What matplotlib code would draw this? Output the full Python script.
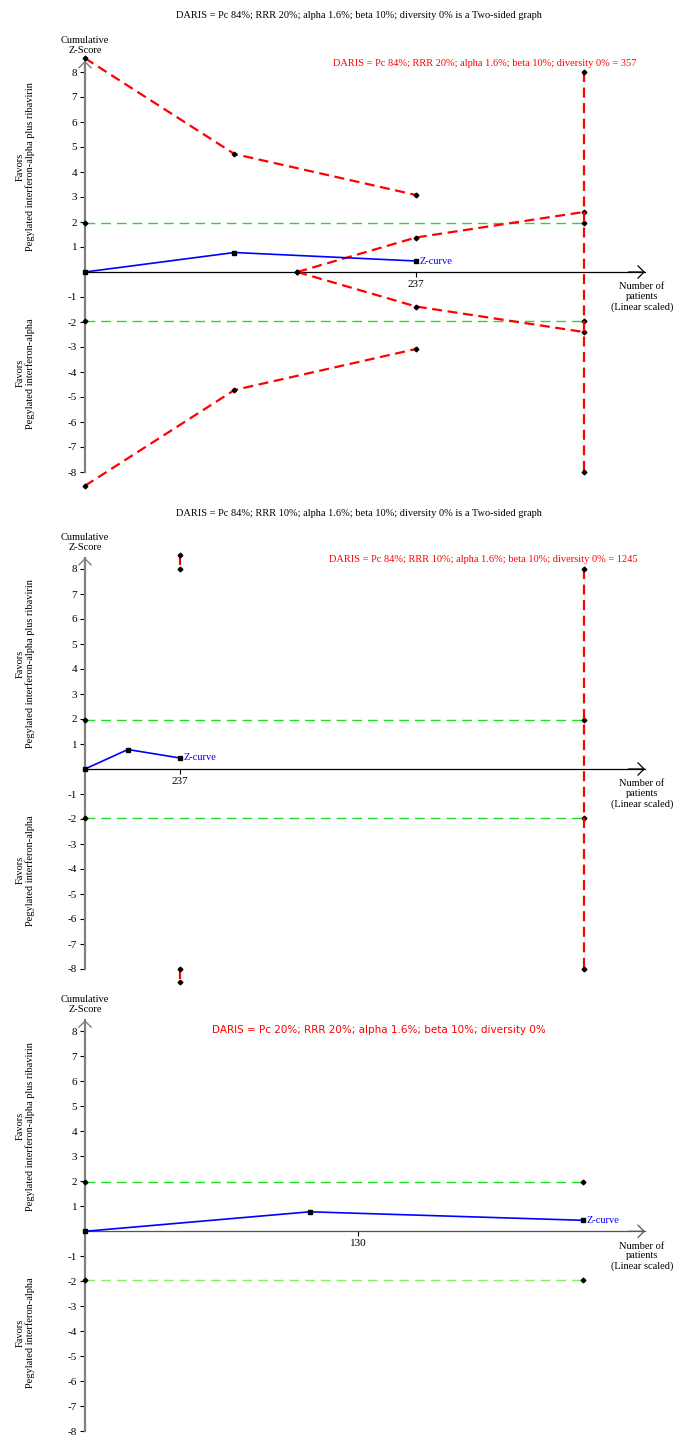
import matplotlib
matplotlib.use("Agg")
import matplotlib.pyplot as plt

plt.rcParams['font.family'] = ['Liberation Serif', 'DejaVu Serif']

# ---- data ----
z_patients = [0, 107, 237]
z_scores = [0, 0.78, 0.44]

# panel 1: RRR 20%, RIS 357
p1_ris = 357
p1_upper_n = [0, 107, 237]
p1_upper_z = [8.55, 4.72, 3.08]
p1_lower_n = [0, 107, 237]
p1_lower_z = [-8.55, -4.72, -3.08]
p1_inner_n = [152, 237, 357]
p1_inner_up_z = [0, 1.38, 2.40]
p1_inner_lo_z = [0, -1.38, -2.40]

# panel 2: RRR 10%, RIS 1245
p2_ris = 1245
p2_upper_n = [237, 237]
p2_upper_z = [8.55, 8.0]
p2_lower_n = [237, 237]
p2_lower_z = [-8.0, -8.5]

# panel 3: Pc 20%, no RIS drawn
p3_end = 237

conv_z = 1.96
ris_z = 8.0

titles = [
    "DARIS = Pc 84%; RRR 20%; alpha 1.6%; beta 10%; diversity 0% is a Two-sided graph",
    "DARIS = Pc 84%; RRR 10%; alpha 1.6%; beta 10%; diversity 0% is a Two-sided graph",
    None,
]
ris_labels = [
    "DARIS = Pc 84%; RRR 20%; alpha 1.6%; beta 10%; diversity 0% = 357",
    "DARIS = Pc 84%; RRR 10%; alpha 1.6%; beta 10%; diversity 0% = 1245",
    "DARIS = Pc 20%; RRR 20%; alpha 1.6%; beta 10%; diversity 0%",
]
xticks_list = [[237], [237], [130]]

W, H = 700, 1448
fig = plt.figure(figsize=(W / 100, H / 100), dpi=100)

RED = '#ff0000'
GREEN = '#22dd22'
LGREEN = '#88ee66'
BLUE = '#0000ff'
FS = 7.5


def make_panel(top, bottom, zero_y, s, x_end, xaxis_col='black'):
    # s = pixels per patient, 25 pixels per z unit, y axis at pixel 85
    ax = fig.add_axes([60 / W, 1 - bottom / H, 620 / W, (bottom - top) / H])
    ax.set_xlim((60 - 85) / s, (680 - 85) / s)
    ax.set_ylim((zero_y - bottom) / 25, (zero_y - top) / 25)
    ax.patch.set_alpha(0)
    for sp in ['top', 'right']:
        ax.spines[sp].set_visible(False)
    ax.spines['left'].set_position(('data', 0))
    ax.spines['bottom'].set_position(('data', 0))
    ax.spines['left'].set_bounds(-8, 8.45)
    ax.spines['bottom'].set_bounds(0, x_end)
    ax.spines['left'].set_color('#808080')
    ax.spines['left'].set_linewidth(1.6)
    ax.spines['bottom'].set_color(xaxis_col)
    ax.spines['bottom'].set_linewidth(0.9)
    yt = [v for v in range(-8, 9) if v != 0]
    ax.set_yticks(yt)
    ax.set_yticklabels([str(v) for v in yt])
    ax.tick_params(axis='y', length=3.6, width=0.8, color='black', pad=2,
                   labelsize=8)
    ax.tick_params(axis='x', length=3.6, width=0.8, color='black', pad=2,
                   labelsize=8, direction='out')
    # arrow heads
    ax.annotate('', xy=(x_end, 0), xytext=(x_end * 0.97, 0),
                arrowprops=dict(arrowstyle='->,head_length=0.45,head_width=0.45',
                                color=xaxis_col, lw=0.9, shrinkA=0, shrinkB=0))
    ax.annotate('', xy=(0, 8.45), xytext=(0, 8.0),
                arrowprops=dict(arrowstyle='->,head_length=0.45,head_width=0.45',
                                color='#808080', lw=1.0, shrinkA=0, shrinkB=0))
    ax.text(0, 9.06, "Cumulative\nZ-Score", ha='center', va='center',
            fontsize=FS, linespacing=1.1)
    xl = (642 - 85) / s
    ax.text(xl, -1.0, "Number of\npatients\n(Linear scaled)", ha='center',
            va='center', fontsize=FS, linespacing=1.1)
    xf = (25 - 85) / s
    ax.text(xf, 4.2, "Favors\nPegylated interferon-alpha plus ribavirin",
            rotation=90, ha='center', va='center', multialignment='center',
            fontsize=FS, linespacing=1.1)
    ax.text(xf, -4.05, "Favors\nPegylated interferon-alpha",
            rotation=90, ha='center', va='center', multialignment='center',
            fontsize=FS, linespacing=1.1)
    return ax


def red_line(ax, n, z):
    ax.plot(n, z, color=RED, lw=1.6, dashes=(4.5, 2.5), clip_on=False,
            marker='D', ms=2.4, mfc='black', mec='black', zorder=4)


def green_line(ax, n, z, col):
    ax.plot(n, z, color=col, lw=1.0, dashes=(7, 4.3), clip_on=False,
            marker='D', ms=2.4, mfc='black', mec='black', zorder=3)


def z_curve(ax):
    ax.plot(z_patients, z_scores, color=BLUE, lw=1.2, marker='s', ms=2.4,
            mfc='black', mec='black', clip_on=False, zorder=5)
    ax.annotate("Z-curve", xy=(z_patients[-1], z_scores[-1]), xytext=(2.5, 0),
                textcoords='offset points', ha='left', va='center',
                color=BLUE, fontsize=FS)


def px(x, y):
    return x / W, 1 - y / H


# ---- panel 1 ----
s1 = (416 - 85) / 237
ax1 = make_panel(50, 495, 272, s1, (645 - 85) / s1)
green_line(ax1, [0, p1_ris], [conv_z, conv_z], GREEN)
green_line(ax1, [0, p1_ris], [-conv_z, -conv_z], GREEN)
red_line(ax1, p1_upper_n, p1_upper_z)
red_line(ax1, p1_lower_n, p1_lower_z)
red_line(ax1, p1_inner_n, p1_inner_up_z)
red_line(ax1, p1_inner_n, p1_inner_lo_z)
red_line(ax1, [p1_ris, p1_ris], [ris_z, -ris_z])
z_curve(ax1)
ax1.set_xticks(xticks_list[0])
ax1.text((485 - 85) / s1, 8.36, ris_labels[0], color=RED, ha='center',
         va='center', fontsize=FS)

# ---- panel 2 ----
s2 = (584 - 85) / p2_ris
ax2 = make_panel(545, 990, 769, s2, (645 - 85) / s2)
green_line(ax2, [0, p2_ris], [conv_z, conv_z], GREEN)
green_line(ax2, [0, p2_ris], [-conv_z, -conv_z], GREEN)
red_line(ax2, p2_upper_n, p2_upper_z)
red_line(ax2, p2_lower_n, p2_lower_z)
red_line(ax2, [p2_ris, p2_ris], [ris_z, -ris_z])
z_curve(ax2)
ax2.set_xticks(xticks_list[1])
ax2.text((483 - 85) / s2, 8.36, ris_labels[1], color=RED, ha='center',
         va='center', fontsize=FS)

# ---- panel 3 ----
s3 = (583 - 85) / p3_end
ax3 = make_panel(1010, 1445, 1231.3, s3, (645 - 85) / s3, xaxis_col='#555555')
green_line(ax3, [0, p3_end], [conv_z, conv_z], GREEN)
green_line(ax3, [0, p3_end], [-conv_z, -conv_z], LGREEN)
z_curve(ax3)
ax3.set_xticks(xticks_list[2])
ax3.text((379 - 85) / s3, 8.05, ris_labels[2], color=RED, ha='center',
         va='center', fontsize=7.45, family=['DejaVu Sans'])

# ---- titles ----
fig.text(*px(359, 15), titles[0], ha='center', va='center', fontsize=FS)
fig.text(*px(359, 513), titles[1], ha='center', va='center', fontsize=FS)

fig.savefig('out.png', dpi=100)
